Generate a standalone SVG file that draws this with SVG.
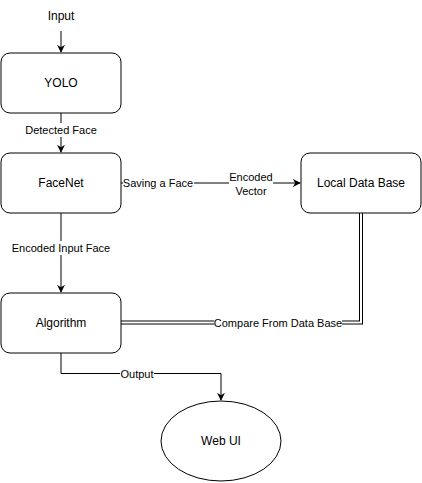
<svg xmlns="http://www.w3.org/2000/svg" width="422" height="483" viewBox="0 0 422 483">
<defs>
<style>
.box{fill:#fff;stroke:#000;stroke-width:1}
.t{font-family:"Liberation Sans",Arial,sans-serif;font-size:12px;fill:#000;text-anchor:middle;dominant-baseline:central}
.l{font-family:"Liberation Sans",Arial,sans-serif;font-size:11px;fill:#000;text-anchor:middle;dominant-baseline:central}
.e{fill:none;stroke:#000;stroke-width:1}
.dbo{fill:none;stroke:#000;stroke-width:4}
.dbi{fill:none;stroke:#fff;stroke-width:2}
.bg{fill:#fff}
</style>
<marker id="ar" viewBox="0 0 10 10" refX="9" refY="5" markerWidth="8" markerHeight="8" markerUnits="userSpaceOnUse" orient="auto">
<path d="M0,0 L10,5 L0,10 L3,5 Z" fill="#000"/>
</marker>
</defs>
<rect width="422" height="483" fill="#fff"/>
<g id="connectors">
<path class="e" d="M61,31 L61,52" marker-end="url(#ar)"/>
<path class="e" d="M61,113 L61,152" marker-end="url(#ar)"/>
<rect class="bg" x="24" y="123" width="74" height="14"/>
<text class="l" x="61" y="130">Detected Face</text>
<path class="e" d="M61,213 L61,292" marker-end="url(#ar)"/>
<rect class="bg" x="11" y="241" width="100" height="14"/>
<text class="l" x="61" y="248">Encoded Input Face</text>
<path class="e" d="M121,183 L300,183" marker-end="url(#ar)"/>
<rect class="bg" x="123" y="176" width="71" height="14"/>
<text class="l" x="158" y="183">Saving a Face</text>
<rect class="bg" x="229" y="170" width="44" height="28"/>
<text class="l" x="251" y="177">Encoded</text>
<text class="l" x="251" y="191">Vector</text>
<path class="dbo" d="M361,213 L361,322.5 L121,322.5"/>
<path class="dbi" d="M361,213 L361,322.5 L121,322.5"/>
<rect class="bg" x="214" y="316" width="128" height="14"/>
<text class="l" x="278" y="323">Compare From Data Base</text>
<path class="e" d="M61,353 L61,373.5 L221,373.5 L221,400" marker-end="url(#ar)"/>
<rect class="bg" x="120" y="367" width="34" height="14"/>
<text class="l" x="137" y="374">Output</text>
</g>
<g id="input">
<text class="t" x="61" y="16">Input</text>
</g>
<g id="yolo">
<rect class="box" x="1" y="53" width="120" height="60" rx="9"/>
<text class="t" x="61" y="83">YOLO</text>
</g>
<g id="facenet">
<rect class="box" x="1" y="153" width="120" height="60" rx="9"/>
<text class="t" x="61" y="183">FaceNet</text>
</g>
<g id="localdb">
<rect class="box" x="301" y="153" width="120" height="60" rx="9"/>
<text class="t" x="361" y="183">Local Data Base</text>
</g>
<g id="algorithm">
<rect class="box" x="1" y="293" width="120" height="60" rx="9"/>
<text class="t" x="61" y="323">Algorithm</text>
</g>
<g id="webui">
<ellipse class="box" cx="221" cy="441" rx="60" ry="40"/>
<text class="t" x="221" y="441">Web UI</text>
</g>
</svg>
